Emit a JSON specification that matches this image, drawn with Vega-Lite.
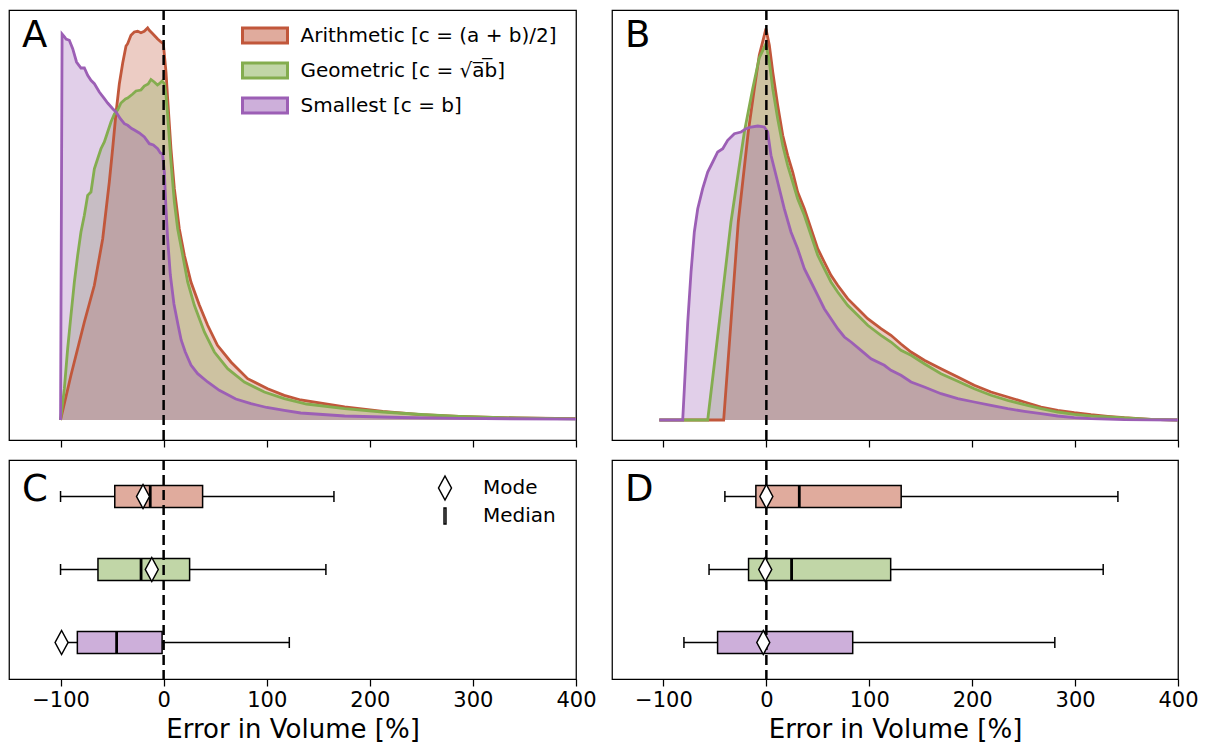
{
  "$schema": "https://vega.github.io/schema/vega-lite/v6.json",
  "background": "white",
  "padding": {"left": 8, "top": 8, "right": 5, "bottom": 0},
  "bounds": "flush",
  "columns": 2,
  "spacing": {"row": 20, "column": 36},
  "config": {
    "view": {"stroke": "black", "strokeWidth": 1.25},
    "font": "DejaVu Sans",
    "axis": {"domain": false, "grid": false, "ticks": true, "tickColor": "black", "tickWidth": 1.25, "tickSize": 7,
      "labelFont": "DejaVu Sans", "labelFontSize": 21, "labelColor": "black", "labelPadding": 3, "labelFlush": false, "labelOverlap": false,
      "titleFont": "DejaVu Sans", "titleFontSize": 26, "titleFontWeight": "normal", "titleColor": "black", "titlePadding": 6},
    "legend": {"labelFont": "DejaVu Sans", "labelFontSize": 20, "labelColor": "black", "padding": 0, "labelLimit": 0},
    "tick": {"opacity": 1}
  },
  "datasets": {
    "densA": [
      {"m":"Arithmetic","x":-100,"y":0},{"m":"Arithmetic","x":-89.9,"y":44.7},{"m":"Arithmetic","x":-76.9,"y":98},{"m":"Arithmetic","x":-67.2,"y":134.7},{"m":"Arithmetic","x":-59.1,"y":181.3},{"m":"Arithmetic","x":-52.7,"y":238},{"m":"Arithmetic","x":-49.4,"y":272},{"m":"Arithmetic","x":-46.2,"y":307},{"m":"Arithmetic","x":-43,"y":336},{"m":"Arithmetic","x":-39.7,"y":357},{"m":"Arithmetic","x":-36.5,"y":374},{"m":"Arithmetic","x":-34.9,"y":376.3},{"m":"Arithmetic","x":-31.7,"y":384.7},{"m":"Arithmetic","x":-28.5,"y":388},{"m":"Arithmetic","x":-25.2,"y":388.7},{"m":"Arithmetic","x":-22,"y":387.3},{"m":"Arithmetic","x":-18.8,"y":388.7},{"m":"Arithmetic","x":-15.5,"y":392},{"m":"Arithmetic","x":-13.9,"y":389.7},{"m":"Arithmetic","x":-10.6,"y":386.3},{"m":"Arithmetic","x":-5.8,"y":381},{"m":"Arithmetic","x":-2.6,"y":378},{"m":"Arithmetic","x":-0.3,"y":376.3},{"m":"Arithmetic","x":2.3,"y":348},{"m":"Arithmetic","x":3.9,"y":321.3},{"m":"Arithmetic","x":7.1,"y":271.3},{"m":"Arithmetic","x":10.4,"y":231.3},{"m":"Arithmetic","x":15.2,"y":191.3},{"m":"Arithmetic","x":20.1,"y":164.7},{"m":"Arithmetic","x":26.5,"y":138},{"m":"Arithmetic","x":34.6,"y":115},{"m":"Arithmetic","x":42.7,"y":94.7},{"m":"Arithmetic","x":52.2,"y":74.7},{"m":"Arithmetic","x":65.3,"y":58},{"m":"Arithmetic","x":81.5,"y":41.3},{"m":"Arithmetic","x":100.9,"y":31.3},{"m":"Arithmetic","x":117,"y":24.7},{"m":"Arithmetic","x":133,"y":20},{"m":"Arithmetic","x":175.6,"y":13},{"m":"Arithmetic","x":212.6,"y":8.7},{"m":"Arithmetic","x":249.6,"y":5.3},{"m":"Arithmetic","x":286.5,"y":3.7},{"m":"Arithmetic","x":342.3,"y":2},{"m":"Arithmetic","x":400,"y":1.3},
      {"m":"Geometric","x":-100,"y":0},{"m":"Geometric","x":-96.3,"y":31.3},{"m":"Geometric","x":-93.1,"y":71.3},{"m":"Geometric","x":-89.9,"y":104.7},{"m":"Geometric","x":-86.6,"y":138},{"m":"Geometric","x":-83.4,"y":164.7},{"m":"Geometric","x":-80.2,"y":188},{"m":"Geometric","x":-76.9,"y":204.7},{"m":"Geometric","x":-73.7,"y":224.7},{"m":"Geometric","x":-70.5,"y":228},{"m":"Geometric","x":-67.2,"y":251.3},{"m":"Geometric","x":-64,"y":261.3},{"m":"Geometric","x":-60.8,"y":271.3},{"m":"Geometric","x":-57.5,"y":278},{"m":"Geometric","x":-54.3,"y":288},{"m":"Geometric","x":-51.1,"y":298},{"m":"Geometric","x":-47.8,"y":306},{"m":"Geometric","x":-44.6,"y":310},{"m":"Geometric","x":-41.4,"y":317},{"m":"Geometric","x":-37,"y":321},{"m":"Geometric","x":-34.9,"y":322},{"m":"Geometric","x":-30,"y":326},{"m":"Geometric","x":-26.8,"y":329},{"m":"Geometric","x":-22,"y":330},{"m":"Geometric","x":-18.8,"y":334},{"m":"Geometric","x":-15,"y":336},{"m":"Geometric","x":-12.3,"y":340.5},{"m":"Geometric","x":-9.1,"y":338},{"m":"Geometric","x":-6,"y":335},{"m":"Geometric","x":-4.2,"y":336.3},{"m":"Geometric","x":-1.5,"y":339},{"m":"Geometric","x":0.7,"y":336.3},{"m":"Geometric","x":2.3,"y":324.7},{"m":"Geometric","x":3.9,"y":304.7},{"m":"Geometric","x":7.1,"y":258},{"m":"Geometric","x":10.4,"y":218},{"m":"Geometric","x":13.6,"y":191.3},{"m":"Geometric","x":18.5,"y":164.7},{"m":"Geometric","x":23.3,"y":138},{"m":"Geometric","x":29.8,"y":114.7},{"m":"Geometric","x":39.5,"y":88},{"m":"Geometric","x":49.2,"y":68},{"m":"Geometric","x":62.1,"y":51.3},{"m":"Geometric","x":78.3,"y":38},{"m":"Geometric","x":97.7,"y":28},{"m":"Geometric","x":117,"y":21.3},{"m":"Geometric","x":138.6,"y":16},{"m":"Geometric","x":175.6,"y":11.3},{"m":"Geometric","x":212.6,"y":8},{"m":"Geometric","x":249.6,"y":5.5},{"m":"Geometric","x":286.5,"y":3.7},{"m":"Geometric","x":342,"y":2},{"m":"Geometric","x":400,"y":1.2},
      {"m":"Smallest","x":-100,"y":0},{"m":"Smallest","x":-98.5,"y":386},{"m":"Smallest","x":-96,"y":383},{"m":"Smallest","x":-94.7,"y":381},{"m":"Smallest","x":-91.5,"y":379.7},{"m":"Smallest","x":-88.2,"y":371.3},{"m":"Smallest","x":-84.5,"y":358},{"m":"Smallest","x":-80.2,"y":352},{"m":"Smallest","x":-76.9,"y":352},{"m":"Smallest","x":-73.7,"y":344.7},{"m":"Smallest","x":-70.5,"y":339.7},{"m":"Smallest","x":-67.2,"y":336.3},{"m":"Smallest","x":-62.4,"y":328},{"m":"Smallest","x":-57.5,"y":321.3},{"m":"Smallest","x":-54.3,"y":317},{"m":"Smallest","x":-49.4,"y":311.3},{"m":"Smallest","x":-46.2,"y":308},{"m":"Smallest","x":-42,"y":301.3},{"m":"Smallest","x":-38.1,"y":296.3},{"m":"Smallest","x":-34.9,"y":294.7},{"m":"Smallest","x":-31,"y":291.5},{"m":"Smallest","x":-28.4,"y":290},{"m":"Smallest","x":-23.6,"y":287},{"m":"Smallest","x":-18.7,"y":283},{"m":"Smallest","x":-13.9,"y":276.3},{"m":"Smallest","x":-10,"y":275},{"m":"Smallest","x":-5.8,"y":271.3},{"m":"Smallest","x":-3.2,"y":267},{"m":"Smallest","x":-1,"y":266},{"m":"Smallest","x":0.7,"y":248},{"m":"Smallest","x":2.3,"y":211},{"m":"Smallest","x":3.9,"y":181},{"m":"Smallest","x":6.5,"y":145},{"m":"Smallest","x":10,"y":116},{"m":"Smallest","x":14,"y":95},{"m":"Smallest","x":17,"y":80},{"m":"Smallest","x":21,"y":68},{"m":"Smallest","x":26.5,"y":55},{"m":"Smallest","x":33,"y":46.3},{"m":"Smallest","x":42.7,"y":38},{"m":"Smallest","x":54,"y":29.7},{"m":"Smallest","x":70,"y":21},{"m":"Smallest","x":84.7,"y":16.3},{"m":"Smallest","x":100,"y":12.5},{"m":"Smallest","x":117,"y":9.7},{"m":"Smallest","x":133,"y":7},{"m":"Smallest","x":175.6,"y":4},{"m":"Smallest","x":230,"y":2.5},{"m":"Smallest","x":286.5,"y":1.6},{"m":"Smallest","x":400,"y":0.8}
    ],
    "densB": [
      {"m":"Arithmetic","x":-104,"y":0},{"m":"Arithmetic","x":-41.5,"y":0},{"m":"Arithmetic","x":-34.4,"y":98},{"m":"Arithmetic","x":-27.3,"y":198},{"m":"Arithmetic","x":-17.6,"y":288},{"m":"Arithmetic","x":-11.7,"y":331.3},{"m":"Arithmetic","x":-6.9,"y":364.7},{"m":"Arithmetic","x":-0.4,"y":391.3},{"m":"Arithmetic","x":2.9,"y":374.7},{"m":"Arithmetic","x":6.2,"y":348},{"m":"Arithmetic","x":11,"y":314.7},{"m":"Arithmetic","x":15.9,"y":284.7},{"m":"Arithmetic","x":20.7,"y":264.7},{"m":"Arithmetic","x":25.6,"y":248},{"m":"Arithmetic","x":30.4,"y":228},{"m":"Arithmetic","x":36.9,"y":211.3},{"m":"Arithmetic","x":43.4,"y":191.3},{"m":"Arithmetic","x":49.9,"y":171.3},{"m":"Arithmetic","x":56.3,"y":158},{"m":"Arithmetic","x":62.8,"y":144.7},{"m":"Arithmetic","x":69.3,"y":134.7},{"m":"Arithmetic","x":79,"y":121.3},{"m":"Arithmetic","x":88.8,"y":111.3},{"m":"Arithmetic","x":98.5,"y":101.3},{"m":"Arithmetic","x":111.4,"y":91.3},{"m":"Arithmetic","x":121.1,"y":84.7},{"m":"Arithmetic","x":130.8,"y":76},{"m":"Arithmetic","x":140.6,"y":68},{"m":"Arithmetic","x":153.5,"y":59.7},{"m":"Arithmetic","x":169.7,"y":51.3},{"m":"Arithmetic","x":186,"y":43},{"m":"Arithmetic","x":202,"y":34.7},{"m":"Arithmetic","x":218.3,"y":28},{"m":"Arithmetic","x":234.5,"y":23},{"m":"Arithmetic","x":250.7,"y":18},{"m":"Arithmetic","x":266.9,"y":13},{"m":"Arithmetic","x":283.1,"y":9.7},{"m":"Arithmetic","x":299.2,"y":7.3},{"m":"Arithmetic","x":315.5,"y":5.3},{"m":"Arithmetic","x":331.8,"y":3.7},{"m":"Arithmetic","x":347.9,"y":2.3},{"m":"Arithmetic","x":373.8,"y":0.7},{"m":"Arithmetic","x":400,"y":0},
      {"m":"Geometric","x":-104,"y":0},{"m":"Geometric","x":-57,"y":0},{"m":"Geometric","x":-45.7,"y":98},{"m":"Geometric","x":-34.4,"y":198},{"m":"Geometric","x":-21.4,"y":288},{"m":"Geometric","x":-13.3,"y":331.3},{"m":"Geometric","x":-6.9,"y":362},{"m":"Geometric","x":-0.4,"y":376.3},{"m":"Geometric","x":2.9,"y":358},{"m":"Geometric","x":6.2,"y":331.3},{"m":"Geometric","x":11,"y":301.3},{"m":"Geometric","x":15.9,"y":274.7},{"m":"Geometric","x":20.7,"y":254.7},{"m":"Geometric","x":25.6,"y":238},{"m":"Geometric","x":30.4,"y":221.3},{"m":"Geometric","x":36.9,"y":204.7},{"m":"Geometric","x":43.4,"y":184.7},{"m":"Geometric","x":49.9,"y":164.7},{"m":"Geometric","x":56.3,"y":151.3},{"m":"Geometric","x":62.8,"y":138},{"m":"Geometric","x":69.3,"y":128},{"m":"Geometric","x":79,"y":114.7},{"m":"Geometric","x":88.8,"y":104.7},{"m":"Geometric","x":98.5,"y":94.7},{"m":"Geometric","x":111.4,"y":84.7},{"m":"Geometric","x":121.1,"y":78},{"m":"Geometric","x":130.8,"y":69.7},{"m":"Geometric","x":140.6,"y":64.7},{"m":"Geometric","x":153.5,"y":56.3},{"m":"Geometric","x":169.7,"y":46.3},{"m":"Geometric","x":186,"y":38.7},{"m":"Geometric","x":202,"y":31.3},{"m":"Geometric","x":218.3,"y":24.7},{"m":"Geometric","x":234.5,"y":19.7},{"m":"Geometric","x":250.7,"y":15.3},{"m":"Geometric","x":266.9,"y":11.3},{"m":"Geometric","x":283.1,"y":8},{"m":"Geometric","x":299.2,"y":5.7},{"m":"Geometric","x":315.5,"y":4},{"m":"Geometric","x":331.8,"y":3},{"m":"Geometric","x":347.9,"y":2},{"m":"Geometric","x":373.8,"y":0.7},{"m":"Geometric","x":400,"y":0},
      {"m":"Smallest","x":-104,"y":0},{"m":"Smallest","x":-81.3,"y":0},{"m":"Smallest","x":-79.7,"y":31.3},{"m":"Smallest","x":-76.4,"y":98},{"m":"Smallest","x":-73.2,"y":148},{"m":"Smallest","x":-70,"y":188},{"m":"Smallest","x":-66.7,"y":211.3},{"m":"Smallest","x":-61.9,"y":231.3},{"m":"Smallest","x":-57,"y":248},{"m":"Smallest","x":-52.1,"y":258},{"m":"Smallest","x":-47.3,"y":268},{"m":"Smallest","x":-42.4,"y":271.3},{"m":"Smallest","x":-37.6,"y":279.7},{"m":"Smallest","x":-31.1,"y":286.3},{"m":"Smallest","x":-24.6,"y":288},{"m":"Smallest","x":-19.8,"y":291.3},{"m":"Smallest","x":-14.9,"y":293},{"m":"Smallest","x":-8.4,"y":294},{"m":"Smallest","x":-2,"y":293},{"m":"Smallest","x":1.3,"y":288},{"m":"Smallest","x":4.5,"y":264.7},{"m":"Smallest","x":11,"y":238},{"m":"Smallest","x":17.4,"y":211.3},{"m":"Smallest","x":23.9,"y":188},{"m":"Smallest","x":30.4,"y":171.3},{"m":"Smallest","x":36.9,"y":151.3},{"m":"Smallest","x":43.4,"y":138},{"m":"Smallest","x":49.9,"y":124.7},{"m":"Smallest","x":56.3,"y":111.3},{"m":"Smallest","x":62.8,"y":101.3},{"m":"Smallest","x":69.3,"y":91.3},{"m":"Smallest","x":75.8,"y":83},{"m":"Smallest","x":82.3,"y":78},{"m":"Smallest","x":92,"y":69.7},{"m":"Smallest","x":101.7,"y":61.3},{"m":"Smallest","x":114.6,"y":54.7},{"m":"Smallest","x":121.1,"y":49.7},{"m":"Smallest","x":130.8,"y":44.7},{"m":"Smallest","x":140.6,"y":38},{"m":"Smallest","x":153.5,"y":33},{"m":"Smallest","x":169.7,"y":26.3},{"m":"Smallest","x":186,"y":21.3},{"m":"Smallest","x":202,"y":18},{"m":"Smallest","x":218.3,"y":14.7},{"m":"Smallest","x":234.5,"y":11.3},{"m":"Smallest","x":250.7,"y":8.7},{"m":"Smallest","x":266.9,"y":6.3},{"m":"Smallest","x":283.1,"y":4},{"m":"Smallest","x":299.2,"y":2.3},{"m":"Smallest","x":315.5,"y":1.3},{"m":"Smallest","x":347.9,"y":0.3},{"m":"Smallest","x":400,"y":0}
    ],
    "boxC": [
      {"m":"Arithmetic","min":-100,"q1":-47.4,"med":-13,"q3":37.8,"max":165.2,"mode":-20,"kind":"Mode"},
      {"m":"Geometric","min":-100,"q1":-63.7,"med":-21.9,"q3":25.2,"max":157.4,"mode":-11.5,"kind":"Mode"},
      {"m":"Smallest","min":-100,"q1":-83.7,"med":-45.6,"q3":-1.5,"max":121.9,"mode":-99,"kind":"Mode"}
    ],
    "boxD": [
      {"m":"Arithmetic","min":-40.3,"q1":-10.2,"med":32,"q3":131,"max":341.6,"mode":0,"kind":"Mode"},
      {"m":"Geometric","min":-55.7,"q1":-17.3,"med":24.5,"q3":120.8,"max":327.3,"mode":-1.1,"kind":"Mode"},
      {"m":"Smallest","min":-80.1,"q1":-47.4,"med":-2.5,"q3":83.9,"max":280.3,"mode":-3,"kind":"Mode"}
    ],
    "one": [{"n": 1}]
  },
  "concat": [
    {
      "width": 567, "height": 430,
      "layer": [
        {"data": {"name": "densA"}, "mark": {"type": "area", "fillOpacity": 0.3},
         "encoding": {
           "x": {"field": "x", "type": "quantitative", "scale": {"domain": [-150, 400], "nice": false, "zero": false}, "axis": {"values": [-100, 0, 100, 200, 300, 400], "labels": false, "title": null}},
           "y": {"field": "y", "type": "quantitative", "stack": null, "scale": {"domain": [-20, 410], "nice": false, "zero": false}, "axis": null},
           "y2": {"datum": 0},
           "color": {"field": "m", "type": "nominal", "scale": {"domain": ["Arithmetic", "Geometric", "Smallest"], "range": ["#c1573b", "#84ad4f", "#9c5fb5"]},
             "legend": {"title": null, "orient": "none", "legendX": 239.5, "legendY": 9, "symbolType": "M-1.5,-0.5H1.5V0.5H-1.5Z", "symbolSize": 900, "rowPadding": 5, "labelOffset": 19, "labelFontSize": 20, "labelLimit": 0,
               "labelExpr": "datum.label === 'Arithmetic' ? 'Arithmetic [c = (a + b)/2]' : datum.label === 'Geometric' ? 'Geometric [c = √a\u0305b\u0305]' : 'Smallest [c = b]'",
               "encode": {"symbols": {"update": {"fillOpacity": {"value": 0.5}, "opacity": {"value": 1}, "strokeWidth": {"value": 3}, "strokeOpacity": {"value": 1},
                 "stroke": {"signal": "datum.value === 'Arithmetic' ? '#c1573b' : datum.value === 'Geometric' ? '#84ad4f' : '#9c5fb5'"}}}}}}
         }},
        {"data": {"name": "densA"}, "mark": {"type": "line", "strokeWidth": 2.8},
         "encoding": {
           "x": {"field": "x", "type": "quantitative"},
           "y": {"field": "y", "type": "quantitative", "stack": null},
           "color": {"field": "m", "type": "nominal", "scale": {"domain": ["Arithmetic", "Geometric", "Smallest"], "range": ["#c1573b", "#84ad4f", "#9c5fb5"]}, "legend": null}
         }},
        {"data": {"name": "one"}, "mark": {"type": "rule", "strokeDash": [10, 5], "strokeWidth": 2.5, "color": "black"}, "encoding": {"x": {"datum": 0}}},
        {"data": {"name": "one"}, "mark": {"type": "text", "text": "A", "fontSize": 37, "align": "left", "baseline": "alphabetic", "color": "black"}, "encoding": {"x": {"datum": -137.4}, "y": {"datum": 373}}}
      ]
    },
    {
      "width": 566, "height": 430,
      "layer": [
        {"data": {"name": "densB"}, "mark": {"type": "area", "fillOpacity": 0.3},
         "encoding": {
           "x": {"field": "x", "type": "quantitative", "scale": {"domain": [-150, 400], "nice": false, "zero": false}, "axis": {"values": [-100, 0, 100, 200, 300, 400], "labels": false, "title": null}},
           "y": {"field": "y", "type": "quantitative", "stack": null, "scale": {"domain": [-20, 410], "nice": false, "zero": false}, "axis": null},
           "y2": {"datum": 0},
           "color": {"field": "m", "type": "nominal", "scale": {"domain": ["Arithmetic", "Geometric", "Smallest"], "range": ["#c1573b", "#84ad4f", "#9c5fb5"]}, "legend": null}
         }},
        {"data": {"name": "densB"}, "mark": {"type": "line", "strokeWidth": 2.8},
         "encoding": {
           "x": {"field": "x", "type": "quantitative"},
           "y": {"field": "y", "type": "quantitative", "stack": null},
           "color": {"field": "m", "type": "nominal", "scale": {"domain": ["Arithmetic", "Geometric", "Smallest"], "range": ["#c1573b", "#84ad4f", "#9c5fb5"]}, "legend": null}
         }},
        {"data": {"name": "one"}, "mark": {"type": "rule", "strokeDash": [10, 5], "strokeWidth": 2.5, "color": "black"}, "encoding": {"x": {"datum": 0}}},
        {"data": {"name": "one"}, "mark": {"type": "text", "text": "B", "fontSize": 37, "align": "left", "baseline": "alphabetic", "color": "black"}, "encoding": {"x": {"datum": -137.4}, "y": {"datum": 373}}}
      ]
    },
    {
      "width": 567, "height": 219,
      "data": {"name": "boxC"},
      "layer": [
        {"mark": {"type": "rule", "color": "black", "strokeWidth": 1.5},
         "encoding": {
           "x": {"field": "min", "type": "quantitative", "scale": {"domain": [-150, 400], "nice": false, "zero": false}, "axis": {"values": [-100, 0, 100, 200, 300, 400], "title": "Error in Volume [%]"}},
           "x2": {"field": "q1"},
           "y": {"field": "m", "type": "nominal", "scale": {"type": "band", "domain": ["Arithmetic", "Geometric", "Smallest"], "paddingInner": 0, "paddingOuter": 0}, "axis": null}
         }},
        {"mark": {"type": "rule", "color": "black", "strokeWidth": 1.5},
         "encoding": {"x": {"field": "q3", "type": "quantitative"}, "x2": {"field": "max"}, "y": {"field": "m", "type": "nominal"}}},
        {"mark": {"type": "tick", "color": "black", "size": 11, "thickness": 1.5, "opacity": 1},
         "encoding": {"x": {"field": "min", "type": "quantitative"}, "y": {"field": "m", "type": "nominal"}}},
        {"mark": {"type": "tick", "color": "black", "size": 11, "thickness": 1.5, "opacity": 1},
         "encoding": {"x": {"field": "max", "type": "quantitative"}, "y": {"field": "m", "type": "nominal"}}},
        {"mark": {"type": "bar", "size": 22, "fillOpacity": 0.5, "stroke": "black", "strokeWidth": 1.5},
         "encoding": {"x": {"field": "q1", "type": "quantitative"}, "x2": {"field": "q3"}, "y": {"field": "m", "type": "nominal"},
           "color": {"field": "m", "type": "nominal", "scale": {"domain": ["Arithmetic", "Geometric", "Smallest"], "range": ["#c1573b", "#84ad4f", "#9c5fb5"]}, "legend": null}}},
        {"mark": {"type": "tick", "color": "black", "size": 22, "thickness": 2.8, "opacity": 1},
         "encoding": {"x": {"field": "med", "type": "quantitative"}, "y": {"field": "m", "type": "nominal"}}},
        {"data": {"name": "one"}, "mark": {"type": "rule", "strokeDash": [10, 5], "strokeWidth": 2.5, "color": "black"}, "encoding": {"x": {"datum": 0}}},
        {"mark": {"type": "point", "fill": "white", "stroke": "black", "strokeWidth": 1.5, "size": 576, "opacity": 1},
         "encoding": {"x": {"field": "mode", "type": "quantitative"}, "y": {"field": "m", "type": "nominal"},
           "shape": {"field": "kind", "type": "nominal", "scale": {"domain": ["Mode", "Median"], "range": ["M0,-1L0.54,0L0,1L-0.54,0Z", "M-0.08,-0.67H0.08V0.67H-0.08Z"]},
             "legend": {"title": null, "orient": "none", "legendX": 423, "legendY": 465, "symbolSize": 576, "rowPadding": 0, "labelOffset": 25, "labelFontSize": 20,
               "encode": {"symbols": {"update": {
                 "fill": {"value": "white"}, "stroke": {"value": "black"}, "strokeWidth": {"value": 1.5},
                 "opacity": {"value": 1}, "fillOpacity": {"value": 1}, "strokeOpacity": {"value": 1}}}}}}}},
        {"data": {"name": "one"}, "mark": {"type": "text", "text": "C", "fontSize": 37, "align": "left", "baseline": "alphabetic", "dy": 4.5, "color": "black"}, "encoding": {"x": {"datum": -137.4}, "y": {"datum": "Arithmetic"}}}
      ]
    },
    {
      "width": 566, "height": 219,
      "data": {"name": "boxD"},
      "layer": [
        {"mark": {"type": "rule", "color": "black", "strokeWidth": 1.5},
         "encoding": {
           "x": {"field": "min", "type": "quantitative", "scale": {"domain": [-150, 400], "nice": false, "zero": false}, "axis": {"values": [-100, 0, 100, 200, 300, 400], "title": "Error in Volume [%]"}},
           "x2": {"field": "q1"},
           "y": {"field": "m", "type": "nominal", "scale": {"type": "band", "domain": ["Arithmetic", "Geometric", "Smallest"], "paddingInner": 0, "paddingOuter": 0}, "axis": null}
         }},
        {"mark": {"type": "rule", "color": "black", "strokeWidth": 1.5},
         "encoding": {"x": {"field": "q3", "type": "quantitative"}, "x2": {"field": "max"}, "y": {"field": "m", "type": "nominal"}}},
        {"mark": {"type": "tick", "color": "black", "size": 11, "thickness": 1.5, "opacity": 1},
         "encoding": {"x": {"field": "min", "type": "quantitative"}, "y": {"field": "m", "type": "nominal"}}},
        {"mark": {"type": "tick", "color": "black", "size": 11, "thickness": 1.5, "opacity": 1},
         "encoding": {"x": {"field": "max", "type": "quantitative"}, "y": {"field": "m", "type": "nominal"}}},
        {"mark": {"type": "bar", "size": 22, "fillOpacity": 0.5, "stroke": "black", "strokeWidth": 1.5},
         "encoding": {"x": {"field": "q1", "type": "quantitative"}, "x2": {"field": "q3"}, "y": {"field": "m", "type": "nominal"},
           "color": {"field": "m", "type": "nominal", "scale": {"domain": ["Arithmetic", "Geometric", "Smallest"], "range": ["#c1573b", "#84ad4f", "#9c5fb5"]}, "legend": null}}},
        {"mark": {"type": "tick", "color": "black", "size": 22, "thickness": 2.8, "opacity": 1},
         "encoding": {"x": {"field": "med", "type": "quantitative"}, "y": {"field": "m", "type": "nominal"}}},
        {"data": {"name": "one"}, "mark": {"type": "rule", "strokeDash": [10, 5], "strokeWidth": 2.5, "color": "black"}, "encoding": {"x": {"datum": 0}}},
        {"mark": {"type": "point", "fill": "white", "stroke": "black", "strokeWidth": 1.5, "size": 576, "opacity": 1},
         "encoding": {"x": {"field": "mode", "type": "quantitative"}, "y": {"field": "m", "type": "nominal"},
           "shape": {"field": "kind", "type": "nominal", "scale": {"domain": ["Mode", "Median"], "range": ["M0,-1L0.54,0L0,1L-0.54,0Z", "M-0.08,-0.67H0.08V0.67H-0.08Z"]}, "legend": null}}},
        {"data": {"name": "one"}, "mark": {"type": "text", "text": "D", "fontSize": 37, "align": "left", "baseline": "alphabetic", "dy": 4.5, "color": "black"}, "encoding": {"x": {"datum": -137.4}, "y": {"datum": "Arithmetic"}}}
      ]
    }
  ]
}
